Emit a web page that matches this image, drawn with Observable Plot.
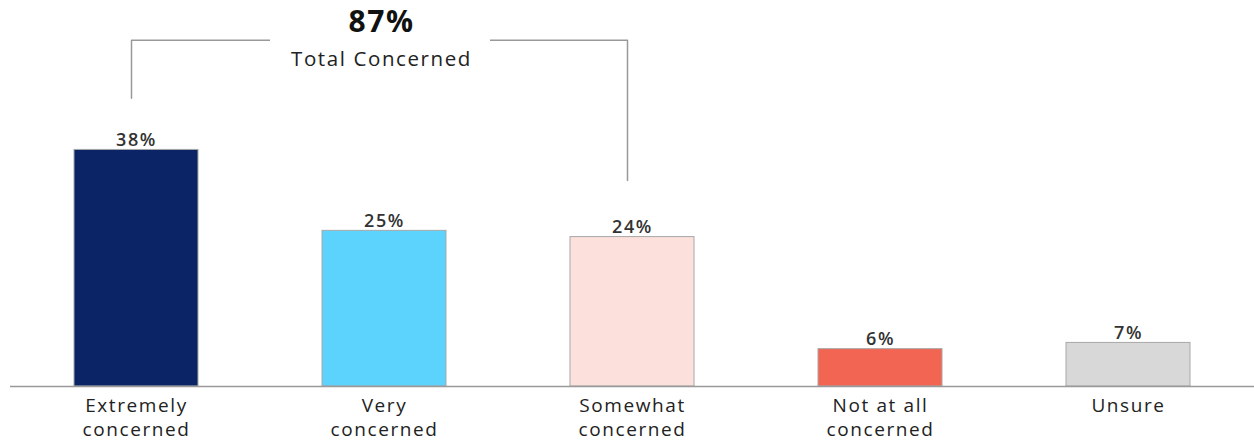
<!DOCTYPE html>
<html>
<head>
<meta charset="utf-8">
<script src="https://cdn.jsdelivr.net/npm/d3@7"></script>
<script src="https://cdn.jsdelivr.net/npm/@observablehq/plot@0.6"></script>
<style>
  html, body { margin: 0; padding: 0; background: #fff; }
  #chart { width: 1254px; height: 442px; }
  #chart svg text { letter-spacing: 1.6px; }
</style>
</head>
<body>
<div id="chart"></div>
<script>
const categories = ["Extremely concerned", "Very concerned", "Somewhat concerned", "Not at all concerned", "Unsure"];
const tickLabels = ["Extremely\nconcerned", "Very\nconcerned", "Somewhat\nconcerned", "Not at all\nconcerned", "Unsure"];
const values = [38, 25, 24, 6, 7];
const colors = ["#0b2465", "#5cd3fc", "#fbe0dc", "#f26552", "#d8d8d8"];
const totalLabel = "87%";
const totalText = "Total Concerned";
const bracketTop = 55.6;
const bracketEnds = [46.3, 33.1];

const data = categories.map((c, i) => ({category: c, value: values[i], color: colors[i]}));
const bracket = [
  {x: categories[0], y: bracketEnds[0]},
  {x: categories[0], y: bracketTop},
  {x: categories[2], y: bracketTop},
  {x: categories[2], y: bracketEnds[1]}
];
const labelMap = new Map(categories.map((c, i) => [c, tickLabels[i]]));
const font = "'Open Sans', sans-serif";

const plot = Plot.plot({
  width: 1254,
  height: 442,
  marginTop: 0,
  marginBottom: 56,
  marginLeft: 10,
  marginRight: 0,
  style: {fontFamily: font, background: "#fff"},
  x: {domain: categories, paddingInner: 0.5, paddingOuter: 0.25, label: null},
  y: {domain: [0, 62], axis: null},
  marks: [
    Plot.barY(data, {x: "category", y: "value", fill: "color", stroke: "#a8a8a8", strokeWidth: 1}),
    Plot.ruleY([0], {stroke: "#999", strokeWidth: 1.5}),
    Plot.text(data, {x: "category", y: "value", text: d => d.value + "%", lineAnchor: "bottom", dy: -4, fontSize: 18, fontWeight: 600, fill: "#333"}),
    Plot.line(bracket, {x: "x", y: "y", stroke: "#999", strokeWidth: 1.5, dx: -5}),
    Plot.barY([0], {x: () => categories[1], y1: bracketTop - 0.7, y2: bracketTop + 0.7, fill: "#fff", insetLeft: -52, insetRight: -44}),
    Plot.text([totalLabel], {x: () => categories[1], y: () => 58.5, text: d => d, fontSize: 30, fontWeight: 700, fill: "#111", dx: -3}),
    Plot.text([totalText], {x: () => categories[1], y: () => 52.5, text: d => d, fontSize: 20.5, fill: "#222", dx: -3}),
    Plot.axisX({tickSize: 0, tickPadding: 9, fontSize: 19, lineHeight: 1.25, tickFormat: d => labelMap.get(d), fill: "#222", label: null})
  ]
});
document.getElementById("chart").appendChild(plot);
</script>
</body>
</html>
